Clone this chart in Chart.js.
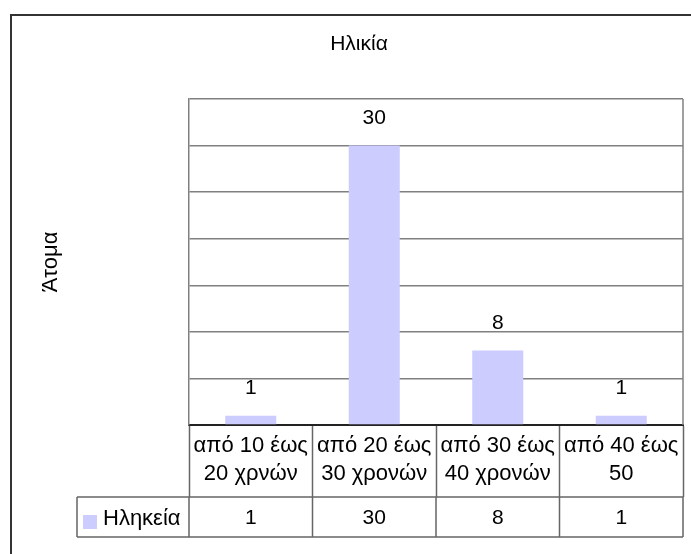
<!DOCTYPE html>
<html>
<head>
<meta charset="utf-8">
<script src="https://cdn.jsdelivr.net/npm/chart.js@4/dist/chart.umd.min.js"></script>
<style>
  html, body { margin: 0; padding: 0; background: #ffffff; }
  #wrap { width: 691px; height: 554px; }
</style>
</head>
<body>
<div id="wrap"><canvas id="c" width="691" height="554"></canvas></div>
<script>
// ---- data ----
const chartTitle = "Ηλικία";
const yAxisTitle = "Άτομα";
const seriesName = "Ηληκεία";
const categories = [
  ["από 10 έως", "20 χρνών"],
  ["από 20 έως", "30 χρονών"],
  ["από 30 έως", "40 χρονών"],
  ["από 40 έως", "50"]
];
const values = [1, 30, 8, 1];
const yMin = 0;
const yMax = 35;
const yStep = 5;

// ---- styles ----
const FONT = "'Liberation Sans', Arial, sans-serif";
const BAR_COLOR = "#ccccff";
const GRID_COLOR = "#808080";
const TABLE_COLOR = "#666666";

const framePlugin = {
  id: 'frame',
  beforeDraw(chart) {
    const ctx = chart.ctx;
    ctx.save();
    ctx.fillStyle = '#ffffff';
    ctx.fillRect(0, 0, chart.width, chart.height);
    ctx.strokeStyle = '#333333';
    ctx.lineWidth = 2;
    ctx.strokeRect(11, 15, chart.width + 20, chart.height + 20);
    ctx.restore();
  }
};

const plotBorderPlugin = {
  id: 'plotBorder',
  afterDraw(chart) {
    const {ctx, chartArea} = chart;
    ctx.save();
    ctx.strokeStyle = GRID_COLOR;
    ctx.lineWidth = 1.5;
    ctx.beginPath();
    ctx.moveTo(chartArea.right, chartArea.top);
    ctx.lineTo(chartArea.right, chartArea.bottom);
    ctx.stroke();
    ctx.restore();
  }
};

const valueLabelPlugin = {
  id: 'valueLabels',
  afterDatasetsDraw(chart) {
    const ctx = chart.ctx;
    const meta = chart.getDatasetMeta(0);
    ctx.save();
    ctx.fillStyle = '#000000';
    ctx.font = "21px " + FONT;
    ctx.textAlign = 'center';
    ctx.textBaseline = 'middle';
    meta.data.forEach((bar, i) => {
      ctx.fillText(String(chart.data.datasets[0].data[i]), bar.x, bar.y - 27);
    });
    ctx.restore();
  }
};

const dataTablePlugin = {
  id: 'dataTable',
  afterDraw(chart) {
    const ctx = chart.ctx;
    const xs = chart.scales.x;
    const area = chart.chartArea;
    const top = 497, bottom = 537, left = 77;
    const n = chart.data.labels.length;
    const bounds = [area.left];
    for (let i = 0; i < n - 1; i++) {
      bounds.push((xs.getPixelForValue(i) + xs.getPixelForValue(i + 1)) / 2);
    }
    bounds.push(area.right);
    ctx.save();
    ctx.strokeStyle = TABLE_COLOR;
    ctx.lineWidth = 1.5;
    ctx.beginPath();
    ctx.moveTo(left, top); ctx.lineTo(area.right, top);
    ctx.moveTo(left, bottom); ctx.lineTo(area.right, bottom);
    ctx.moveTo(left, top); ctx.lineTo(left, bottom);
    bounds.forEach(b => { ctx.moveTo(b, top); ctx.lineTo(b, bottom); });
    ctx.stroke();
    // legend key
    const ds = chart.data.datasets[0];
    ctx.fillStyle = ds.backgroundColor;
    ctx.fillRect(83, 515, 14, 14);
    ctx.fillStyle = '#000000';
    ctx.font = "22px " + FONT;
    ctx.textBaseline = 'middle';
    ctx.textAlign = 'left';
    ctx.fillText(ds.label, 103, 519);
    ctx.textAlign = 'center';
    ctx.font = "21px " + FONT;
    ds.data.forEach((v, i) => {
      ctx.fillText(String(v), (bounds[i] + bounds[i + 1]) / 2, 518);
    });
    ctx.restore();
  }
};

new Chart(document.getElementById('c'), {
  type: 'bar',
  data: {
    labels: categories,
    datasets: [{
      label: seriesName,
      data: values,
      backgroundColor: BAR_COLOR,
      borderWidth: 0,
      barPercentage: 0.413,
      categoryPercentage: 1.0
    }]
  },
  options: {
    responsive: false,
    animation: false,
    devicePixelRatio: 1,
    layout: { padding: { left: 35, right: 8, top: 0, bottom: 57 } },
    plugins: {
      legend: { display: false },
      tooltip: { enabled: false },
      title: {
        display: true,
        text: chartTitle,
        color: '#000000',
        font: { family: FONT, size: 21, weight: 'normal', lineHeight: 1.2 },
        padding: { top: 31.4, bottom: 42.4 }
      }
    },
    scales: {
      x: {
        grid: {
          display: true,
          offset: true,
          drawOnChartArea: false,
          drawTicks: true,
          tickLength: 72,
          tickColor: TABLE_COLOR,
          tickWidth: 1.5
        },
        border: { display: true, color: '#222222', width: 2 },
        ticks: {
          autoSkip: false,
          maxRotation: 0,
          minRotation: 0,
          padding: -64.75,
          color: '#000000',
          font: { family: FONT, size: 22, lineHeight: 1.25 }
        },
        afterFit(scale) { scale.height = 72; }
      },
      y: {
        min: yMin,
        max: yMax,
        ticks: { display: false, stepSize: yStep },
        grid: { color: GRID_COLOR, lineWidth: 1.5, drawTicks: false },
        border: { display: true, color: GRID_COLOR, width: 1.5 },
        title: {
          display: true,
          text: yAxisTitle,
          color: '#000000',
          font: { family: FONT, size: 22, lineHeight: 1.2 },
          padding: { top: 2.8, bottom: 0 }
        },
        afterFit(scale) { scale.width = 154; }
      }
    }
  },
  plugins: [framePlugin, plotBorderPlugin, valueLabelPlugin, dataTablePlugin]
});
</script>
</body>
</html>
